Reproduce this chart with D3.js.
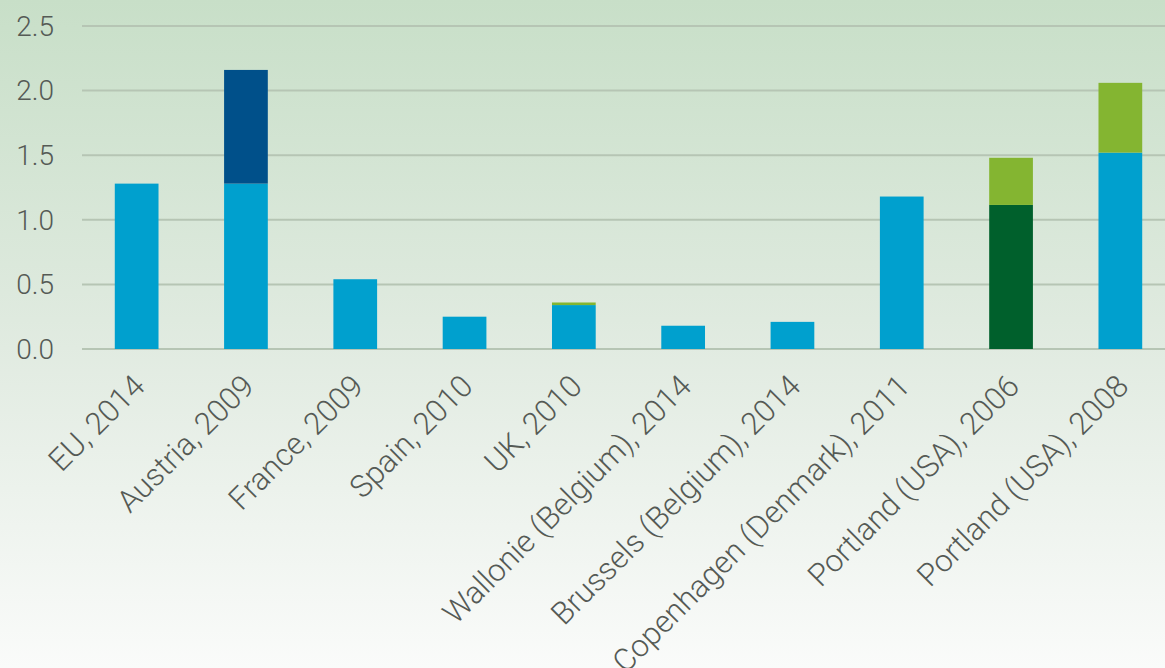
<!DOCTYPE html>
<html>
<head>
<meta charset="utf-8">
<script src="https://cdn.jsdelivr.net/npm/d3@7"></script>
<style>
  html, body { margin: 0; padding: 0; }
  body { width: 1165px; height: 668px; overflow: hidden; }
  #chart text { font-family: Roboto, "Open Sans", sans-serif; font-weight: 300; fill: #555a55; }
</style>
</head>
<body>
<div id="chart"></div>
<script>
// categories along the x axis
var categories = ["EU, 2014", "Austria, 2009", "France, 2009", "Spain, 2010", "UK, 2010",
    "Wallonie (Belgium), 2014", "Brussels (Belgium), 2014", "Copenhagen (Denmark), 2011",
    "Portland (USA), 2006", "Portland (USA), 2008"];

// stacked series (bottom to top)
var lightBlue  = [1.28, 1.28, 0.54, 0.25, 0.34, 0.18, 0.21, 1.18, 0, 1.52];
var darkGreen  = [0, 0, 0, 0, 0, 0, 0, 0, 1.115, 0];
var darkBlue   = [0, 0.88, 0, 0, 0, 0, 0, 0, 0, 0];
var lightGreen = [0, 0, 0, 0, 0.02, 0, 0, 0, 0.365, 0.54];

var seriesNames = ["lightBlue", "darkGreen", "darkBlue", "lightGreen"];
var seriesColors = ["#00a0ce", "#00602c", "#00508a", "#84b531"];

var yTicks = [0, 0.5, 1.0, 1.5, 2.0, 2.5];

var width = 1165, height = 668;
var margin = { top: 26, right: -10, bottom: 319, left: 82 };

var svg = d3.select("#chart").append("svg")
    .attr("width", width)
    .attr("height", height);

// background gradient
var grad = svg.append("defs").append("linearGradient")
    .attr("id", "bg")
    .attr("x1", 0).attr("y1", 0).attr("x2", 0).attr("y2", 1);
grad.append("stop").attr("offset", "0%").attr("stop-color", "#c8dfc8");
grad.append("stop").attr("offset", "52%").attr("stop-color", "#e1ebe1");
grad.append("stop").attr("offset", "100%").attr("stop-color", "#fafbfa");

svg.append("rect")
    .attr("width", width)
    .attr("height", height)
    .attr("fill", "url(#bg)");

var table = categories.map(function(c, i) {
    return { cat: c, lightBlue: lightBlue[i], darkGreen: darkGreen[i], darkBlue: darkBlue[i], lightGreen: lightGreen[i] };
});

var stacked = d3.stack().keys(seriesNames)(table);

var x = d3.scaleBand()
    .domain(categories)
    .range([margin.left, width - margin.right])
    .paddingInner(0.6)
    .paddingOuter(0.3);

var y = d3.scaleLinear()
    .domain([0, 2.5])
    .range([height - margin.bottom, margin.top]);

// gridlines
svg.append("g")
    .selectAll("line")
    .data(yTicks)
    .enter()
    .append("line")
    .attr("x1", margin.left)
    .attr("x2", width)
    .attr("y1", d => y(d))
    .attr("y2", d => y(d))
    .attr("stroke", "#b6c5b4")
    .attr("stroke-width", 2);

// y tick labels
svg.append("g")
    .selectAll("text")
    .data(yTicks)
    .enter()
    .append("text")
    .attr("x", 54)
    .attr("y", d => y(d))
    .attr("dy", "0.35em")
    .attr("text-anchor", "end")
    .attr("font-size", 28)
    .text(d => d3.format(".1f")(d));

// bars
svg.append("g")
    .selectAll("g")
    .data(stacked)
    .enter()
    .append("g")
    .attr("fill", (d, i) => seriesColors[i])
    .selectAll("rect")
    .data(d => d.filter(p => p[1] - p[0] > 0))
    .enter()
    .append("rect")
    .attr("x", d => x(d.data.cat))
    .attr("width", x.bandwidth())
    .attr("y", d => y(d[1]))
    .attr("height", d => y(d[0]) - y(d[1]));

// x labels, rotated (the long Copenhagen label runs off the bottom, as in the original)
svg.append("g")
    .selectAll("text")
    .data(categories)
    .enter()
    .append("text")
    .attr("text-anchor", "end")
    .attr("font-size", 31)
    .attr("transform", d => "translate(" + (x(d) + x.bandwidth() / 2 + 10) + "," + (y(0) + 39) + ") rotate(-45)")
    .text(d => d);
</script>
</body>
</html>
